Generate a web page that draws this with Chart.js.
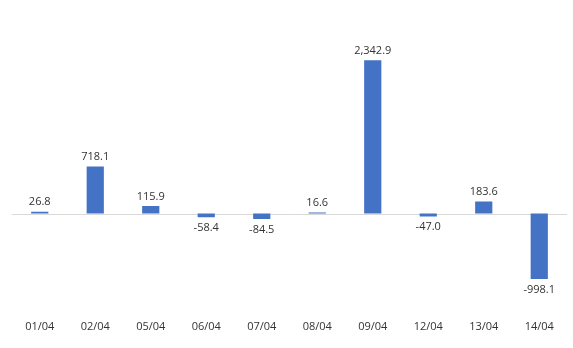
<!DOCTYPE html>
<html>
<head>
<meta charset="utf-8">
<script src="https://cdn.jsdelivr.net/npm/chart.js@4"></script>
<style>
  html, body { margin: 0; padding: 0; background: #fff; }
  #wrap { width: 573px; height: 348px; }
</style>
</head>
<body>
<div id="wrap"><canvas id="chart"></canvas></div>
<script>
const categories = ["01/04", "02/04", "05/04", "06/04", "07/04", "08/04", "09/04", "12/04", "13/04", "14/04"];
const values = [26.8, 718.1, 115.9, -58.4, -84.5, 16.6, 2342.9, -47.0, 183.6, -998.1];

const fmt = v => v.toLocaleString('en-US', { minimumFractionDigits: 1, maximumFractionDigits: 1 });

// zero baseline across the plot
const zeroLine = {
  id: 'zeroLine',
  beforeDatasetsDraw(chart) {
    const ctx = chart.ctx;
    const y = Math.round(chart.scales.y.getPixelForValue(0)) + 0.5;
    ctx.save();
    ctx.strokeStyle = '#d9d9d9';
    ctx.lineWidth = 1;
    ctx.beginPath();
    ctx.moveTo(chart.chartArea.left, y);
    ctx.lineTo(chart.chartArea.right, y);
    ctx.stroke();
    ctx.restore();
  }
};

// draw value labels above positive bars, below negative ones
const valueLabels = {
  id: 'valueLabels',
  afterDatasetsDraw(chart) {
    const ctx = chart.ctx;
    const meta = chart.getDatasetMeta(0);
    ctx.save();
    ctx.font = '11px "Open Sans", sans-serif';
    ctx.fillStyle = '#333';
    ctx.textAlign = 'center';
    meta.data.forEach((bar, i) => {
      const v = values[i];
      if (v >= 0) {
        ctx.textBaseline = 'bottom';
        ctx.fillText(fmt(v), bar.x, bar.y - 4);
      } else {
        ctx.textBaseline = 'top';
        ctx.fillText(fmt(v), bar.x, bar.y + 5);
      }
    });
    ctx.restore();
  }
};

new Chart(document.getElementById('chart'), {
  type: 'bar',
  data: {
    labels: categories,
    datasets: [{
      data: values,
      backgroundColor: '#4472c4',
      barPercentage: 0.31,
      categoryPercentage: 1
    }]
  },
  options: {
    responsive: true,
    maintainAspectRatio: false,
    animation: false,
    layout: { padding: { left: 12, right: 6, top: 10, bottom: 16 } },
    plugins: {
      legend: { display: false },
      tooltip: { enabled: false }
    },
    scales: {
      x: {
        grid: { display: false },
        border: { display: false },
        ticks: { color: '#333', font: { family: 'Open Sans', size: 11 }, padding: -1 }
      },
      y: {
        display: false,
        min: -1516,
        max: 3109
      }
    }
  },
  plugins: [zeroLine, valueLabels]
});
</script>
</body>
</html>
